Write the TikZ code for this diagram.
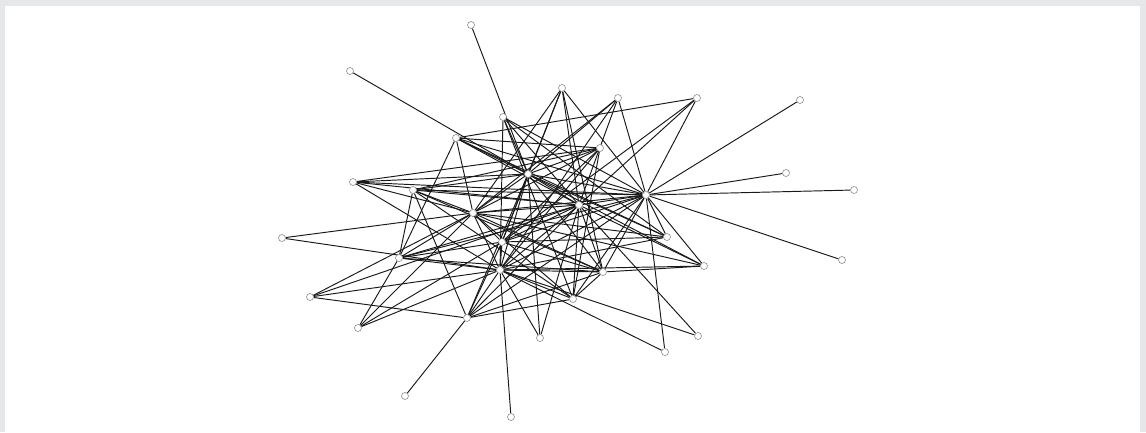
\documentclass[tikz,border=0pt]{standalone}
\usetikzlibrary{backgrounds}
\definecolor{framegray}{RGB}{230,231,233}
\definecolor{nodeedge}{RGB}{140,140,140}
\definecolor{linecol}{RGB}{25,25,25}
\begin{document}
\begin{tikzpicture}[x=1pt,y=-1pt,
  vtx/.style={circle,draw=nodeedge,fill=white,line width=0.6pt,inner sep=0pt,minimum size=7pt},
  lnk/.style={draw=linecol,line width=0.95pt}]
\useasboundingbox (0,0) rectangle (1146,432);
% nodes
\foreach \n/\x/\y in {a/471/25,b/350/71,c/562/88,d/618/98,e/697/98,f/800/100,g/503/117,h/456/138,i/600/148,j/528/174,k/786/173,l/353/182,m/413/190,n/854/190,o/646/195,p/579/205,q/473/213,r/282/238,s/667/237,t/502/242,u/399/258,v/842/260,w/704/266,x/500/270,y/603/272,z/310/297,aa/573/299,ab/467/318,ac/358/328,ad/540/338,ae/698/336,af/665/352,ag/405/396,ah/511/417}
  \node[vtx] (\n) at (\x,\y) {};
\begin{scope}[on background layer]
\fill[framegray] (0,0) rectangle (1146,432);
\fill[white] (5,6) rectangle (1140,432);
\foreach \s/\t in {a/j,b/j,f/o,k/o,n/o,v/o,r/q,r/x,ag/ab,ah/x,
  c/q,c/t,c/j,c/p,c/o,c/y,
  d/j,d/q,d/x,d/o,d/p,
  e/h,e/o,e/t,e/p,
  g/x,g/p,g/o,g/s,g/aa,g/j,
  h/j,h/i,h/o,h/q,h/p,h/s,h/u,
  i/q,i/j,i/l,i/x,i/t,i/aa,i/m,
  j/s,j/o,j/p,j/q,j/x,j/t,j/y,j/ab,j/l,j/m,j/w,j/ad,
  l/q,l/x,l/o,l/p,
  m/o,m/p,m/u,m/ab,m/aa,m/q,
  o/p,o/q,o/x,o/t,o/y,o/aa,o/w,o/af,o/s,o/u,o/ab,
  p/q,p/x,p/t,p/y,p/aa,p/ae,p/w,p/z,p/u,p/ab,p/ad,
  q/x,q/t,q/y,q/aa,q/z,q/ac,q/u,q/s,q/w,
  s/t,s/x,t/x,t/y,t/u,t/ac,t/ab,
  u/x,u/y,u/ac,w/y,w/x,
  x/y,x/aa,x/z,x/ab,x/ac,x/ad,x/ae,x/af,
  y/aa,y/ab,y/m,aa/ab,z/ab}
  \draw[lnk] (\s) -- (\t);
\end{scope}
\end{tikzpicture}
\end{document}
